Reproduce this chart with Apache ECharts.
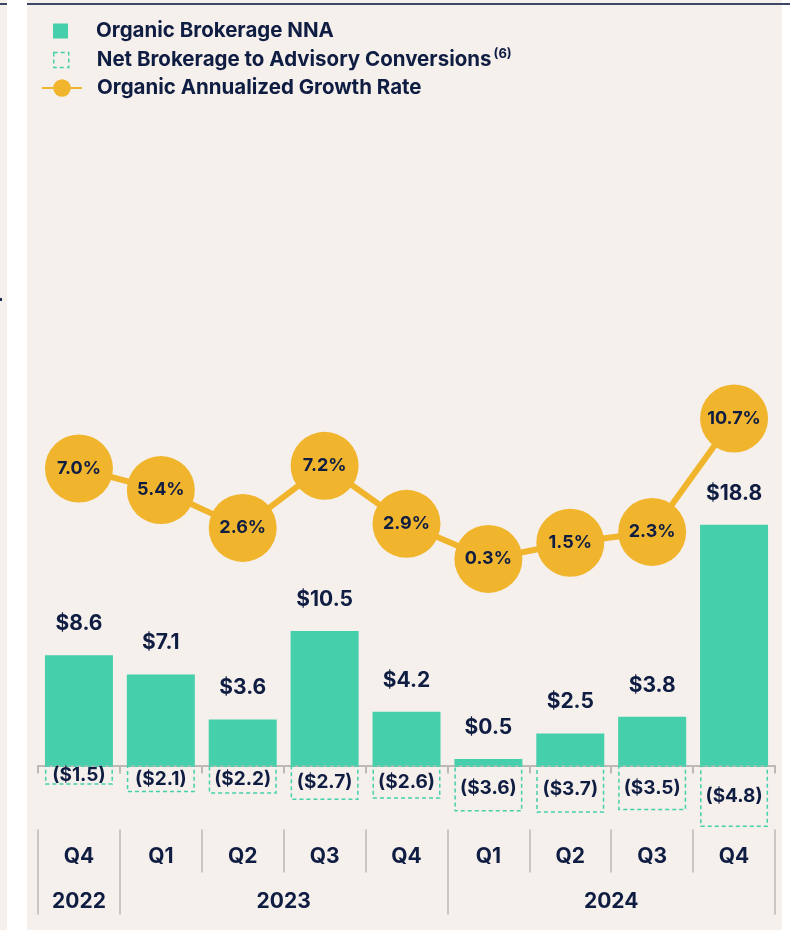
<!DOCTYPE html>
<html>
<head>
<meta charset="utf-8">
<script src="https://cdn.jsdelivr.net/npm/echarts@6/dist/echarts.min.js"></script>
<style>
html, body { margin: 0; padding: 0; background: #ffffff; }
#main { width: 790px; height: 930px; }
</style>
</head>
<body>
<div id="main"></div>
<script>
var quarters = ['Q4', 'Q1', 'Q2', 'Q3', 'Q4', 'Q1', 'Q2', 'Q3', 'Q4'];
var years = ['2022', '2023', '2024'];
var yearSpans = [1, 4, 4];
var organicNNA = [8.6, 7.1, 3.6, 10.5, 4.2, 0.5, 2.5, 3.8, 18.8];
var conversions = [-1.5, -2.1, -2.2, -2.7, -2.6, -3.6, -3.7, -3.5, -4.8];
var growthRate = [7.0, 5.4, 2.6, 7.2, 2.9, 0.3, 1.5, 2.3, 10.7];

var TEAL = '#45cfab';
var GOLD = '#f1b52d';
var NAVY = '#101d42';
var FONT = 'Inter';

// year group edges / centres on a 0..n scale
var yearEdges = [0], yearMids = [];
yearSpans.forEach(function (s, i) {
    yearEdges.push(yearEdges[i] + s);
    yearMids.push(yearEdges[i] + s / 2);
});

var chart = echarts.init(document.getElementById('main'));

var legendText = { fontFamily: FONT, fontSize: 20.5, fontWeight: 'bold', color: NAVY, lineHeight: 22 };

var option = {
    backgroundColor: '#ffffff',
    animation: false,
    textStyle: { fontFamily: FONT },
    graphic: [
        { type: 'rect', shape: { x: 27, y: 0, width: 755, height: 930 }, style: { fill: '#f5f0ec' }, z: -10 },
        { type: 'rect', shape: { x: 0, y: 0, width: 7, height: 930 }, style: { fill: '#f5f0ec' }, z: -10 },
        { type: 'rect', shape: { x: 27, y: 3, width: 763, height: 2 }, style: { fill: '#3d4766' }, z: -9 },
        { type: 'rect', shape: { x: 0, y: 3, width: 7, height: 2 }, style: { fill: '#3d4766' }, z: -9 },
        { type: 'rect', shape: { x: 0, y: 298, width: 2, height: 3 }, style: { fill: '#1d2a50' }, z: -9 }
    ],
    legend: [{
        data: ['Organic Brokerage NNA'],
        left: 48, top: 15,
        itemWidth: 15, itemHeight: 15,
        icon: 'rect',
        textStyle: Object.assign({ padding: [0, 0, 0, 23] }, legendText)
    }, {
        data: ['Net Brokerage to Advisory Conversions'],
        left: 48, top: 43,
        itemWidth: 15, itemHeight: 15,
        icon: 'rect',
        itemStyle: { color: 'transparent', borderColor: TEAL, borderWidth: 1.5, borderType: [4, 3] },
        formatter: function (name) { return name + '{sup|(6)}'; },
        textStyle: Object.assign({
            padding: [0, 0, 0, 23],
            rich: { sup: { fontFamily: FONT, fontSize: 13, fontWeight: 'bold', color: NAVY, padding: [0, 0, 11, 2] } }
        }, legendText)
    }, {
        data: ['Organic Annualized Growth Rate'],
        left: 36, top: 72,
        itemWidth: 40, itemHeight: 22,
        textStyle: Object.assign({ padding: [0, 0, 0, 10] }, legendText)
    }],
    grid: { left: 38, right: 15, top: 313.5, bottom: 100.5 },
    xAxis: [{
        type: 'category',
        data: quarters,
        axisLine: { onZero: true, onZeroAxisIndex: 0, lineStyle: { color: '#bdbab6', width: 2 } },
        axisTick: { show: true, length: 8, interval: 0, lineStyle: { color: '#bdbab6', width: 2 } },
        axisLabel: { show: false }
    }, {
        type: 'category',
        data: quarters,
        position: 'bottom',
        offset: 0,
        axisLine: { show: false, onZero: false },
        axisTick: { show: true, length: 43, interval: 0, lineStyle: { color: '#c9c6c2', width: 2 } },
        axisLabel: { interval: 0, margin: 27, verticalAlign: 'middle', fontFamily: FONT, fontSize: 21, fontWeight: 'bold', color: NAVY }
    }, {
        type: 'value',
        min: 0,
        max: quarters.length,
        position: 'bottom',
        offset: 0,
        splitLine: { show: false },
        axisLine: { show: false, onZero: false },
        axisTick: { show: true, length: 85, customValues: yearEdges, lineStyle: { color: '#c9c6c2', width: 2 } },
        axisLabel: {
            customValues: yearMids,
            margin: 72,
            verticalAlign: 'middle',
            fontFamily: FONT, fontSize: 21, fontWeight: 'bold', color: NAVY,
            formatter: function (v) {
                var i = yearMids.indexOf(v);
                return i >= 0 ? years[i] : '';
            }
        }
    }],
    yAxis: [{
        type: 'value', min: -5, max: 35.3, show: false, splitLine: { show: false }
    }, {
        type: 'value', min: -19.74, max: 18.48, show: false, splitLine: { show: false }
    }],
    series: [{
        name: 'Organic Brokerage NNA',
        type: 'bar',
        data: organicNNA,
        barWidth: 68,
        barGap: '-100%',
        itemStyle: { color: TEAL },
        label: {
            show: true, position: 'top', distance: 21,
            fontFamily: FONT, fontSize: 21, fontWeight: 'bold', color: NAVY,
            formatter: function (p) { return '$' + p.value.toFixed(1); }
        },
        z: 3
    }, {
        name: 'Net Brokerage to Advisory Conversions',
        type: 'bar',
        data: conversions,
        barWidth: 68,
        barGap: '-100%',
        itemStyle: { color: 'transparent', borderColor: TEAL, borderWidth: 1.5, borderType: [4, 3] },
        label: {
            show: true, position: 'inside',
            fontFamily: FONT, fontSize: 19, fontWeight: 'bold', color: NAVY,
            formatter: function (p) { return '($' + Math.abs(p.value).toFixed(1) + ')'; }
        },
        z: 3
    }, {
        name: 'Organic Annualized Growth Rate',
        type: 'line',
        yAxisIndex: 1,
        data: growthRate,
        symbol: 'circle',
        symbolSize: 68,
        showSymbol: true,
        showAllSymbol: true,
        clip: false,
        lineStyle: { color: GOLD, width: 6 },
        itemStyle: { color: GOLD },
        label: {
            show: true, position: 'inside',
            fontFamily: FONT, fontSize: 18, fontWeight: 'bold', color: NAVY,
            formatter: function (p) { return p.value.toFixed(1) + '%'; }
        },
        z: 5
    }]
};

chart.setOption(option);
</script>
</body>
</html>
